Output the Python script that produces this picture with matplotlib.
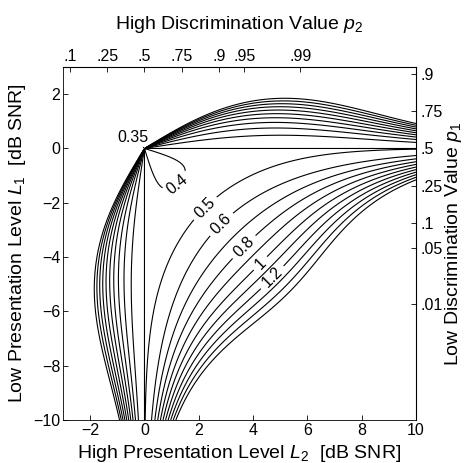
import numpy as np
import matplotlib
matplotlib.use("Agg")
import matplotlib.pyplot as plt

plt.rcParams['font.family'] = ['Liberation Sans', 'DejaVu Sans']
plt.rcParams['mathtext.fontset'] = 'custom'
plt.rcParams['mathtext.rm'] = 'Liberation Sans'
plt.rcParams['mathtext.it'] = 'Liberation Sans:italic'

# ---- data / model parameters ----
slope = 0.8          # logistic slope of psychometric function (1/dB)
n_trials = 25        # trials per presentation level
levels = [0.35, 0.4, 0.5, 0.6, 0.7, 0.8, 0.9, 1.0, 1.1, 1.2, 1.3, 1.4, 1.5]
label_levels = [0.4, 0.5, 0.6, 0.8, 1.0, 1.2]
label_pos = [(1.22, -1.34), (2.29, -2.26), (2.77, -2.73), (3.69, -3.65),
             (4.24, -4.2), (4.72, -4.76)]
x_ticks = [-2, 0, 2, 4, 6, 8, 10]
y_ticks = [-10, -8, -6, -4, -2, 0, 2]
p2_ticks = [0.1, 0.25, 0.5, 0.75, 0.9, 0.95, 0.99]
p2_labels = ['.1', '.25', '.5', '.75', '.9', '.95', '.99']
p1_ticks = [0.01, 0.05, 0.1, 0.25, 0.5, 0.75, 0.9]
p1_labels = ['.01', '.05', '.1', '.25', '.5', '.75', '.9']
x_range = (-3, 10)
y_range = (-10, 3)


def psy(L):
    return 1.0 / (1.0 + np.exp(-slope * L))


def psy_inv(p):
    p = np.clip(p, 1e-9, 1 - 1e-9)
    return np.log(p / (1 - p)) / slope


L2 = np.linspace(x_range[0], x_range[1], 801) + 1e-4
L1 = np.linspace(y_range[0], y_range[1], 801) - 1e-4
X, Y = np.meshgrid(L2, L1)
w1 = psy(Y) * (1 - psy(Y))
w2 = psy(X) * (1 - psy(X))
with np.errstate(divide='ignore', invalid='ignore'):
    var = (w1 * Y**2 + w2 * X**2) / (slope**2 * w1 * w2 * (Y - X)**2 * n_trials)
    sd = np.sqrt(var)
sd = np.where(Y < X, sd, np.nan)

W, H = 472, 463
fig = plt.figure(figsize=(W / 100, H / 100), dpi=100)
ax = fig.add_axes([63/W, 43/H, 353/W, 353/H])
plain_levels = [v for v in levels if v not in label_levels]
ax.contour(X, Y, sd, levels=plain_levels, colors='k', linewidths=0.8)
cs = ax.contour(X, Y, sd, levels=label_levels, colors='k', linewidths=0.8)
ax.clabel(cs, inline=True, fontsize=11.5, fmt=lambda v: f'{v:g}', manual=label_pos)
ax.annotate('0.35', xy=(0, 0), xytext=(-0.42, 0.42), fontsize=11.5,
            ha='center', va='center',
            arrowprops=dict(arrowstyle='-', lw=0.8, shrinkA=5, shrinkB=0))

ax.set_xlim(*x_range)
ax.set_ylim(*y_range)
ax.set_xticks(x_ticks)
ax.set_yticks(y_ticks)
ax.set_xticklabels([str(t).replace('-', '\u2212') for t in x_ticks])
ax.set_yticklabels([str(t).replace('-', '\u2212') for t in y_ticks])
ax.tick_params(direction='in', length=3.5, width=0.6, labelsize=11.5)
ax.tick_params(axis='x', pad=2.5)
ax.tick_params(axis='y', pad=2)
for sp in ax.spines.values():
    sp.set_linewidth(0.6)

top = ax.secondary_xaxis('top', functions=(psy, psy_inv))
top.set_xticks(p2_ticks, labels=p2_labels)
top.tick_params(direction='in', length=3.5, width=0.6, labelsize=11.5, pad=2)
right = ax.secondary_yaxis('right', functions=(psy, psy_inv))
right.set_yticks(p1_ticks, labels=p1_labels)
right.tick_params(direction='in', length=3.5, width=0.6, labelsize=11.5, pad=3)

lab_fs = 14
ax.set_xlabel(r'High Presentation Level $\mathit{L}_2$  [dB SNR]', fontsize=lab_fs)
ax.xaxis.set_label_coords(0.5, -0.066)
ax.set_ylabel(r'Low Presentation Level $\mathit{L}_1$  [dB SNR]', fontsize=lab_fs)
ax.yaxis.set_label_coords(-0.098, 0.5)
cx = (63 + 416) / 2 / W
cy = 1 - (67 + 420) / 2 / H
fig.text(cx, 1 - 29 / H, r'High Discrimination Value $\mathit{p}_2$',
         fontsize=lab_fs, ha='center', va='baseline')
fig.text(458 / W, cy, r'Low Discrimination Value $\mathit{p}_1$',
         fontsize=lab_fs, ha='center', va='baseline', rotation=90,
         rotation_mode='anchor')

fig.savefig('out.png', dpi=100)
